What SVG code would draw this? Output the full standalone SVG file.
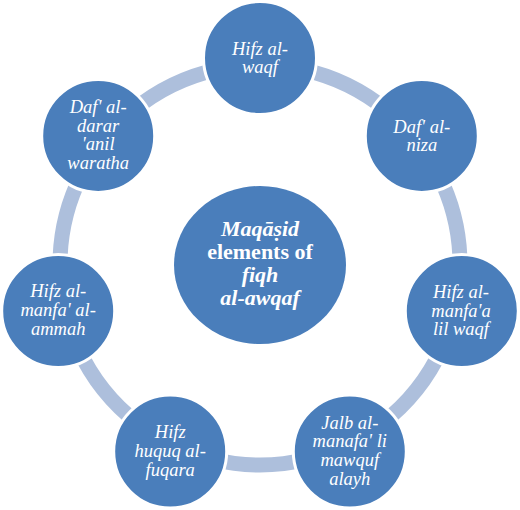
<svg xmlns="http://www.w3.org/2000/svg" width="520" height="510" viewBox="0 0 520 510">
<style>
.arc{fill:none;stroke:#adbfdc;stroke-width:15}
.node{fill:#4a7ebb;stroke:#ffffff;stroke-width:3}
.t{font-style:italic;font-size:18.5px;fill:#ffffff;text-anchor:middle}
.c{font-weight:bold;font-size:22px;fill:#ffffff;text-anchor:middle}
</style>
<rect width="520" height="510" fill="#ffffff"/>
<g id="connectors">
<path class="arc" d="M301.6 69.4 A200 200 0 0 1 387.0 110.5"/>
<path class="arc" d="M438.9 175.5 A200 200 0 0 1 460.0 268.0"/>
<path class="arc" d="M441.5 349.1 A200 200 0 0 1 382.3 423.2"/>
<path class="arc" d="M307.4 459.3 A200 200 0 0 1 212.6 459.3"/>
<path class="arc" d="M137.7 423.2 A200 200 0 0 1 78.5 349.1"/>
<path class="arc" d="M60.0 268.0 A200 200 0 0 1 81.1 175.5"/>
<path class="arc" d="M133.0 110.5 A200 200 0 0 1 218.4 69.4"/>
</g>
<g font-family="Liberation Serif, Times New Roman, Tinos, DejaVu Serif, serif">
<g id="center">
<ellipse cx="260" cy="265" rx="86" ry="79" fill="#4a7ebb"/>
<text class="c"><tspan x="260" y="236" font-style="italic">Maqāṣid</tspan><tspan x="260" y="259">elements of</tspan><tspan x="260" y="282" font-style="italic">fiqh</tspan><tspan x="260" y="305" font-style="italic">al-awqaf</tspan></text>
</g>
<g id="n1">
<circle class="node" cx="260" cy="58" r="56.5"/>
<text class="t"><tspan x="260" y="54.5">Hifz al-</tspan><tspan x="260" y="73">waqf</tspan></text>
</g>
<g id="n2">
<circle class="node" cx="421.8" cy="135.9" r="56.5"/>
<text class="t"><tspan x="421.8" y="132.5">Daf' al-</tspan><tspan x="421.8" y="151">niza</tspan></text>
</g>
<g id="n3">
<circle class="node" cx="461.8" cy="311.1" r="56.5"/>
<text class="t"><tspan x="461" y="297.6">Hifz al-</tspan><tspan x="461" y="316.5">manfa'a</tspan><tspan x="461" y="335.4">lil waqf</tspan></text>
</g>
<g id="n4">
<circle class="node" cx="349.8" cy="451.5" r="56.5"/>
<text class="t"><tspan x="349.8" y="428.6">Jalb al-</tspan><tspan x="349.8" y="447.4">manafa' li</tspan><tspan x="349.8" y="466.2">mawquf</tspan><tspan x="349.8" y="485">alayh</tspan></text>
</g>
<g id="n5">
<circle class="node" cx="170.2" cy="451.5" r="56.5"/>
<text class="t"><tspan x="170.2" y="437.8">Hifz</tspan><tspan x="170.2" y="456.8">huquq al-</tspan><tspan x="170.2" y="475.6">fuqara</tspan></text>
</g>
<g id="n6">
<circle class="node" cx="58.2" cy="311.1" r="56.5"/>
<text class="t"><tspan x="58.2" y="297">Hifz al-</tspan><tspan x="58.2" y="315.8">manfa' al-</tspan><tspan x="58.2" y="334.6">ammah</tspan></text>
</g>
<g id="n7">
<circle class="node" cx="98.2" cy="135.9" r="56.5"/>
<text class="t"><tspan x="98.2" y="113.2">Daf' al-</tspan><tspan x="98.2" y="131.6">darar</tspan><tspan x="98.2" y="150.4">'anil</tspan><tspan x="98.2" y="169.4">waratha</tspan></text>
</g>
</g>
</svg>
